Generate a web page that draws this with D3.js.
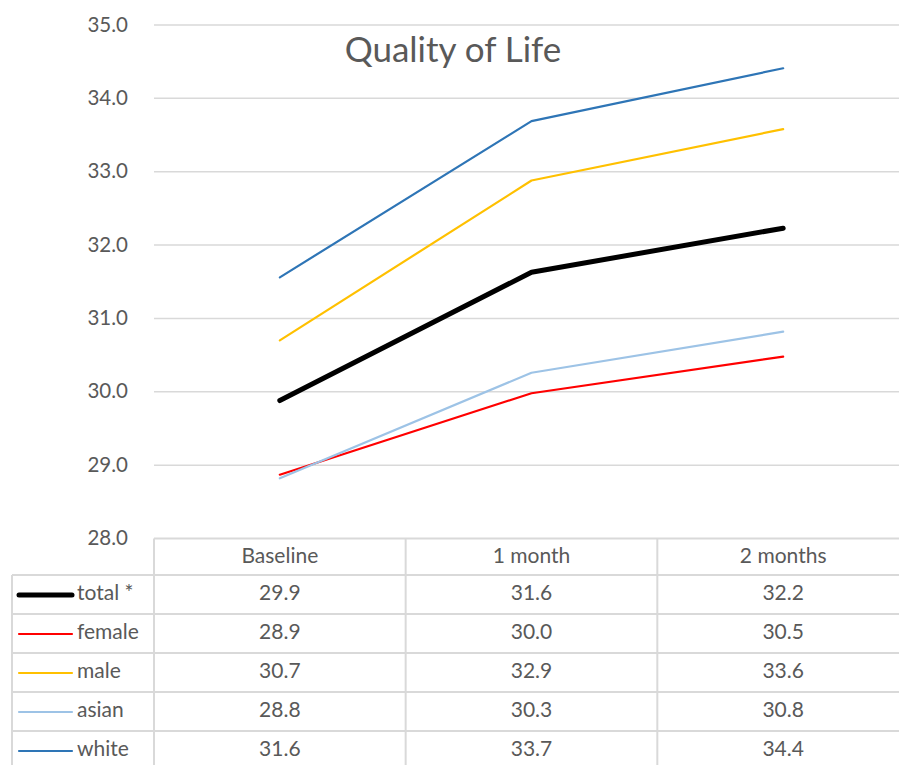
<!DOCTYPE html>
<html><head><meta charset="utf-8">
<script src="https://cdn.jsdelivr.net/npm/d3@7/dist/d3.min.js"></script>
<style>
html,body{margin:0;padding:0;background:#fff;}
svg{display:block;font-family:Lato,"Open Sans",sans-serif;}
</style></head>
<body>
<svg id="chart" width="899" height="765"></svg>
<script>
const categories = ["Baseline", "1 month", "2 months"];
const seriesNames = ["total *", "female", "male", "asian", "white"];
const totalValues  = [29.88, 31.63, 32.23];
const femaleValues = [28.87, 29.98, 30.48];
const maleValues   = [30.70, 32.88, 33.58];
const asianValues  = [28.82, 30.26, 30.82];
const whiteValues  = [31.56, 33.69, 34.41];
const seriesColors = ["#000000", "#FF0000", "#FFC000", "#9DC3E6", "#2E75B6"];
const seriesWidths = [5, 2.2, 2.2, 2.2, 2.2];
const yTicks = [28, 29, 30, 31, 32, 33, 34, 35];
const title = "Quality of Life";

const series = [totalValues, femaleValues, maleValues, asianValues, whiteValues]
  .map((v, i) => ({name: seriesNames[i], values: v, color: seriesColors[i], width: seriesWidths[i]}));

const svg = d3.select("#chart");
const plotLeft = 154, plotRight = 909, plotTop = 25, plotBottom = 538.5;
const x = d3.scaleBand().domain(categories).range([plotLeft, plotRight]);
const y = d3.scaleLinear().domain([28, 35]).range([plotBottom, plotTop]);
const textColor = "#595959", gridColor = "#d9d9d9";
const tableFont = "21px";

// gridlines
svg.append("g").selectAll("line").data(yTicks.filter(t => t > 28)).join("line")
  .attr("x1", plotLeft).attr("x2", plotRight)
  .attr("y1", d => y(d)).attr("y2", d => y(d))
  .attr("stroke", gridColor).attr("stroke-width", 1.5);

// y axis labels
const yAxis = d3.axisLeft(y).tickValues(yTicks).tickFormat(d3.format(".1f")).tickSize(0).tickPadding(0);
const ya = svg.append("g").attr("transform", "translate(128,0)").call(yAxis);
ya.select(".domain").remove();
ya.selectAll("text").attr("fill", textColor).style("font-size", "20.5px")
  .style("font-family", "Lato,'Open Sans',sans-serif").attr("dy", "0.3em");

// title
svg.append("text").attr("x", 453).attr("y", 62).attr("text-anchor", "middle")
  .attr("fill", textColor).style("font-size", "35px").text(title);

// lines
const line = d3.line().x((d, i) => x(categories[i]) + x.bandwidth() / 2).y(d => y(d));
svg.append("g").selectAll("path").data(series).join("path")
  .attr("d", d => line(d.values)).attr("fill", "none")
  .attr("stroke", d => d.color).attr("stroke-width", d => d.width)
  .attr("stroke-linecap", "round").attr("stroke-linejoin", "round");

// data table
const tableLeft = 12, headerTop = plotBottom, headerBottom = 575, rowH = 39;
const rowsTop = d => headerBottom + d * rowH;
const tg = svg.append("g");
function hline(x1, x2, yy) { tg.append("line").attr("x1", x1).attr("x2", x2).attr("y1", yy).attr("y2", yy).attr("stroke", gridColor).attr("stroke-width", 2); }
function vline(xx, y1, y2) { tg.append("line").attr("x1", xx).attr("x2", xx).attr("y1", y1).attr("y2", y2).attr("stroke", gridColor).attr("stroke-width", 2); }
const tableBottom = rowsTop(series.length);
hline(plotLeft, plotRight, headerTop);
for (let r = 0; r <= series.length; r++) hline(tableLeft, plotRight, rowsTop(r));
vline(tableLeft, headerBottom, tableBottom);
categories.forEach(c => vline(x(c), headerTop, tableBottom));
vline(plotRight, headerTop, tableBottom);

// header
tg.selectAll("text.hdr").data(categories).join("text").attr("class", "hdr")
  .attr("x", d => x(d) + x.bandwidth() / 2).attr("y", (headerTop + headerBottom) / 2 - 1)
  .attr("dy", "0.35em").attr("text-anchor", "middle").attr("fill", textColor)
  .style("font-size", tableFont).text(d => d);

// rows
series.forEach((s, r) => {
  const cy = rowsTop(r) + rowH / 2;
  tg.append("line").attr("x1", 19).attr("x2", 72).attr("y1", cy + 0.5).attr("y2", cy + 0.5)
    .attr("stroke", s.color).attr("stroke-width", s.width).attr("stroke-linecap", "round");
  tg.append("text").attr("x", 77).attr("y", cy - 2).attr("dy", "0.35em").attr("fill", textColor)
    .style("font-size", tableFont).text(s.name);
  s.values.forEach((v, i) => {
    tg.append("text").attr("x", x(categories[i]) + x.bandwidth() / 2).attr("y", cy - 2)
      .attr("dy", "0.35em").attr("text-anchor", "middle").attr("fill", textColor)
      .style("font-size", tableFont).text(v.toFixed(1));
  });
});
</script>
</body></html>
